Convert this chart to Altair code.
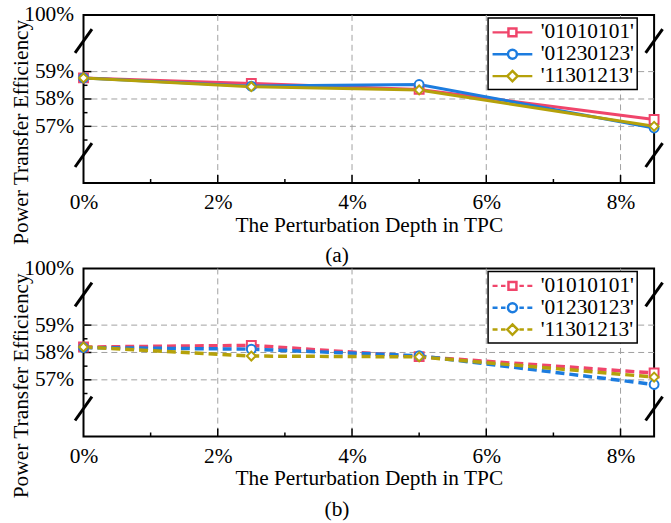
import altair as alt
import pandas as pd

FONT = "Liberation Serif"
FS = 21.5

# ---------------- data ----------------
series = ["'01010101'", "'01230123'", "'11301213'"]
colors = ["#F0456B", "#1C7CDF", "#B5A10A"]
shapes = ["square", "circle", "diamond"]
depth = [0, 2.5, 5, 8.5]

# panel (a)
a_01010101 = [58.77, 58.57, 58.35, 57.25]
a_01230123 = [58.77, 58.47, 58.53, 56.94]
a_11301213 = [58.77, 58.45, 58.33, 57.00]
# panel (b)
b_01010101 = [58.20, 58.26, 57.85, 57.25]
b_01230123 = [58.18, 58.12, 57.88, 56.83]
b_11301213 = [58.20, 57.87, 57.84, 57.10]

x_label_values = [0, 2, 4, 6, 8]
x_ticks_major = [2, 4, 6, 8]
x_ticks_minor = [1, 3, 5, 7]
y_ticks_major = [57, 58, 59]
y_ticks_minor = [56.5, 57.5, 58.5]
X_MAX = 8.5
Y_MIN, Y_MAX = 54.93, 61.07
break_x = [0, 8.5]
break_y = [55.95, 60.12]
BREAK_DX, BREAK_DY = 0.126, 0.436

W, H = 574, 169

sq = "M0.6,-0.4H1.4V0.4H0.6Z"
ci = "M1.45,0A0.45,0.45 0 1,1 0.55,0A0.45,0.45 0 1,1 1.45,0Z"
di = "M1,-0.52L1.52,0L1,0.52L0.48,0Z"
solid_sq = "M-1,0H0.6M1.4,0H3"
solid_ci = "M-1,0H0.55M1.45,0H3"
solid_di = "M-1,0H0.48M1.52,0H3"
dash_l = "M-1,0H-0.5M-0.15,0H0.3"
dash_r = "M1.7,0H2.15M2.5,0H3"


def legend_expr(dashed):
    if dashed:
        paths = [dash_l + dash_r + sq, dash_l + dash_r + ci, dash_l + dash_r + di]
    else:
        paths = [solid_sq + sq, solid_ci + ci, solid_di + di]
    return "[" + ",".join("'" + p + "'" for p in paths) + "][datum.index]"


def panel(values, dashed, label):
    rows = []
    for s, vals in zip(series, values):
        for x, y in zip(depth, vals):
            rows.append({"x": x, "y": y, "series": s})
    df = pd.DataFrame(rows)

    x_scale = alt.Scale(domain=[0, X_MAX], nice=False, zero=False)
    y_scale = alt.Scale(domain=[Y_MIN, Y_MAX], nice=False, zero=False)

    x_axis = alt.Axis(
        values=x_label_values, labelExpr="datum.value + '%'", grid=False, ticks=False,
        domain=False, labelPadding=9, labelFlush=False,
        title="The Perturbation Depth in TPC", titlePadding=1,
    )
    y_axis = alt.Axis(
        values=y_ticks_major + [Y_MAX],
        labelExpr="datum.value > 60 ? '100%' : datum.value + '%'",
        grid=False, ticks=False, domain=False, labelPadding=10, labelFlush=False,
        title="Power Transfer Efficiency", titleAngle=270, titleAlign="center",
        titleBaseline="alphabetic", titleX=-56, titleY=117.5,
    )
    X = alt.X("x:Q", scale=x_scale, axis=x_axis)
    Y = alt.Y("y:Q", scale=y_scale, axis=y_axis)

    grid_style = dict(color="#A0A0A0", strokeDash=[6, 4], strokeWidth=1)
    grid_v = alt.Chart(pd.DataFrame({"x": x_ticks_major})).mark_rule(**grid_style).encode(x=X)
    grid_h = alt.Chart(pd.DataFrame({"y": y_ticks_major})).mark_rule(**grid_style).encode(y=Y)

    tick_style = dict(color="black", strokeWidth=1.5)
    xt_major = alt.Chart(pd.DataFrame({"x": x_ticks_major})).mark_rule(**tick_style).encode(
        x=X, y=alt.value(H), y2=alt.value(H - 8))
    xt_minor = alt.Chart(pd.DataFrame({"x": x_ticks_minor})).mark_rule(**tick_style).encode(
        x=X, y=alt.value(H), y2=alt.value(H - 4))
    yt_major = alt.Chart(pd.DataFrame({"y": y_ticks_major})).mark_rule(**tick_style).encode(
        y=Y, x=alt.value(0), x2=alt.value(8))
    yt_minor = alt.Chart(pd.DataFrame({"y": y_ticks_minor})).mark_rule(**tick_style).encode(
        y=Y, x=alt.value(0), x2=alt.value(4))

    brk = pd.DataFrame([
        {"x": bx - BREAK_DX, "x2": bx + BREAK_DX, "y": by - BREAK_DY, "y2": by + BREAK_DY}
        for bx in break_x for by in break_y
    ])
    breaks = alt.Chart(brk).mark_rule(color="black", strokeWidth=3).encode(
        x=X, x2="x2:Q", y=Y, y2="y2:Q")

    color_scale = alt.Scale(domain=series, range=colors)
    legend = alt.Legend(
        orient="none", legendX=407, legendY=3, title=None,
        labelFont=FONT, labelFontSize=FS, labelColor="black", labelOffset=27, labelLimit=400,
        symbolSize=400, symbolStrokeWidth=2.5, symbolFillColor="white", symbolOpacity=1,
        symbolType=alt.ExprRef(legend_expr(dashed)),
        padding=3, rowPadding=0, strokeColor="black", fillColor="white",
    )
    color = alt.Color("series:N", scale=color_scale, legend=legend)

    line_kw = dict(strokeWidth=3.5, strokeDash=[9, 5]) if dashed else dict(strokeWidth=3)
    lines = alt.Chart(df).mark_line(**line_kw).encode(x=X, y=Y, color=color)

    points = alt.Chart(df).mark_point(filled=False, fill="white", size=80, strokeWidth=2, opacity=1).encode(
        x=X, y=Y, color=color,
        shape=alt.Shape("series:N", scale=alt.Scale(domain=series, range=shapes), legend=None),
    )

    return alt.layer(
        grid_v, grid_h, xt_major, xt_minor, yt_major, yt_minor, breaks, lines, points
    ).properties(
        width=W, height=H,
        title=alt.TitleParams(label, orient="bottom", anchor="middle", frame="group", dx=-32,
                              offset=1, font=FONT, fontSize=FS, fontWeight="normal", color="black"),
    )


pa = panel([a_01010101, a_01230123, a_11301213], False, "(a)")
pb = panel([b_01010101, b_01230123, b_11301213], True, "(b)")

chart = alt.vconcat(pa, pb, spacing=86, bounds="flush").resolve_legend(
    color="independent"
).properties(
    padding={"left": 9, "top": 1.5, "right": 5, "bottom": 5}
).configure_view(
    stroke="black", strokeWidth=2
).configure_axis(
    labelFont=FONT, labelFontSize=FS, labelColor="black",
    titleFont=FONT, titleFontSize=FS, titleColor="black", titleFontWeight="normal",
).configure_legend(
    strokeWidth=1.5, labelFont=FONT
)

chart.save("out.html", embed_options={"renderer": "svg", "actions": False})
